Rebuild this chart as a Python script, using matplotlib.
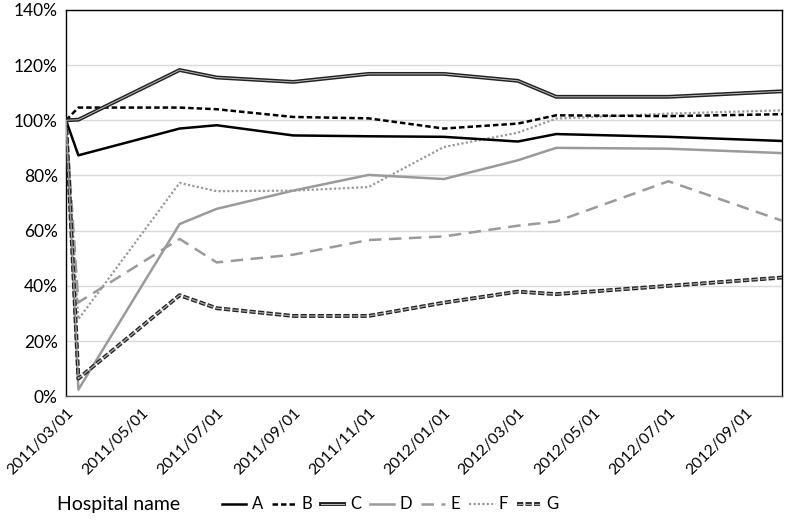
import matplotlib
matplotlib.use("Agg")
import matplotlib.pyplot as plt
import datetime as dt

plt.rcParams['font.family'] = ['Lato', 'DejaVu Sans']

dates = ["2011-03-01", "2011-03-11", "2011-06-01", "2011-07-01", "2011-09-01",
         "2011-11-01", "2012-01-01", "2012-03-01", "2012-04-01", "2012-07-01",
         "2012-10-01"]
A = [100, 87.3, 97.0, 98.2, 94.5, 94.2, 94.0, 92.3, 95.0, 94.0, 92.5]
B = [100, 104.6, 104.6, 104.0, 101.2, 100.7, 97.0, 98.8, 101.8, 101.5, 102.2]
C = [100, 100.2, 118.2, 115.5, 113.9, 116.8, 116.8, 114.3, 108.5, 108.5, 110.5]
D = [100, 2.4, 62.4, 67.9, 74.5, 80.2, 78.7, 85.5, 90.0, 89.7, 88.1]
E = [100, 34.0, 57.0, 48.5, 51.3, 56.6, 57.9, 61.8, 63.3, 77.9, 63.6]
F = [100, 27.9, 77.3, 74.3, 74.5, 75.8, 90.3, 95.5, 100.6, 102.4, 103.6]
G = [100, 6.4, 36.6, 31.9, 29.1, 29.1, 33.9, 37.9, 37.0, 40.0, 43.0]
names = ["A", "B", "C", "D", "E", "F", "G"]
tick_dates = ["2011-03-01", "2011-05-01", "2011-07-01", "2011-09-01", "2011-11-01",
              "2012-01-01", "2012-03-01", "2012-05-01", "2012-07-01", "2012-09-01"]
yticks = [0, 20, 40, 60, 80, 100, 120, 140]

x = [dt.datetime.strptime(d, "%Y-%m-%d") for d in dates]
xt = [dt.datetime.strptime(d, "%Y-%m-%d") for d in tick_dates]

fig = plt.figure(figsize=(7.86, 5.2), dpi=100)
ax = fig.add_axes([0.084, 0.238, 0.911, 0.743])

gray = "#9a9a9a"
handles = []
hA, = ax.plot(x, A, color="black", lw=1.8, zorder=5)
handles.append(hA)
hB, = ax.plot(x, B, color="black", lw=1.8, ls=(0, (2.2, 1.2)), zorder=5)
handles.append(hB)
hC1, = ax.plot(x, C, color="#222222", lw=2.8, zorder=5, solid_joinstyle='miter')
hC2, = ax.plot(x, C, color="#bbbbbb", lw=0.7, zorder=6)
handles.append((hC1, hC2))
hD, = ax.plot(x, D, color=gray, lw=1.8, zorder=4)
handles.append(hD)
hE, = ax.plot(x, E, color=gray, lw=1.8, ls=(0, (5, 3)), zorder=4)
handles.append(hE)
hF, = ax.plot(x, F, color=gray, lw=1.6, ls=(0, (1, 1)), zorder=4)
handles.append(hF)
hG1, = ax.plot(x, G, color="#222222", lw=2.8, ls=(0, (1.6, 0.6)), zorder=5)
hG2, = ax.plot(x, G, color="#aaaaaa", lw=0.9, ls=(0, (4.98, 1.87)), zorder=6)
handles.append((hG1, hG2))

ax.set_ylim(0, 140)
ax.set_yticks(yticks)
ax.set_yticklabels([f"{v}%" for v in yticks], fontsize=12.5)
ax.set_xlim(x[0], x[-1])
ax.set_xticks(xt)
ax.set_xticklabels([d.replace("-", "/") for d in tick_dates], rotation=45,
                   ha="right", rotation_mode="anchor", fontsize=11.3)
ax.tick_params(axis="y", length=0, pad=6)
ax.tick_params(axis="x", length=0, pad=7)
ax.grid(axis="y", color="#d9d9d9", lw=1)
ax.set_axisbelow(True)
for s in ax.spines.values():
    s.set_color("black")
    s.set_linewidth(1)
ax.spines["bottom"].set_color("#595959")

fig.text(0.073, 0.03, "Hospital name", fontsize=14, va="center", ha="left")
leg = fig.legend(handles, names, loc="center left", bbox_to_anchor=(0.283, 0.03),
                 ncol=7, frameon=False, fontsize=12, handlelength=1.4,
                 handletextpad=0.35, columnspacing=0.55, borderaxespad=0,
                 borderpad=0)

fig.savefig("out.png", dpi=100)
